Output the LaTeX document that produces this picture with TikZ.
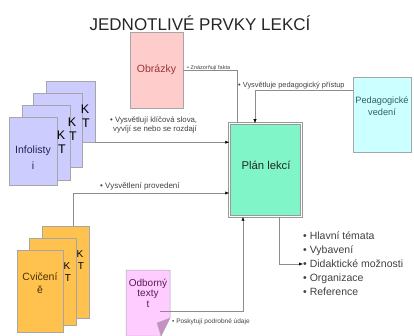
\documentclass[tikz,border=0pt]{standalone}
\usepackage{fontspec}
\setmainfont{Liberation Sans}
\usetikzlibrary{arrows.meta, positioning, calc}
\definecolor{infofill}{HTML}{CCCCFF}
\definecolor{infotext}{HTML}{22225A}
\definecolor{cvicfill}{HTML}{FFC24F}
\definecolor{cvictext}{HTML}{4A3000}
\definecolor{obrfill}{HTML}{FFCCCC}
\definecolor{obrtext}{HTML}{993333}
\definecolor{pedfill}{HTML}{CCFFFF}
\definecolor{pedtext}{HTML}{335F5F}
\definecolor{planfill}{HTML}{80F5C8}
\definecolor{odbfill}{HTML}{FFCCFF}
\definecolor{odbfold}{HTML}{C690C6}
\definecolor{odbtext}{HTML}{5A1A5A}
\definecolor{linegray}{HTML}{8C8C8C}
\tikzset{
  info card/.style={draw=gray!70, fill=infofill, line width=0.5pt, inner sep=0pt},
  cvic card/.style={draw=gray!70, fill=cvicfill, line width=0.5pt, inner sep=0pt},
  obr box/.style={draw=gray!70, fill=obrfill, line width=0.5pt, text=obrtext,
    minimum width=53pt, minimum height=76pt, font=\fontsize{10.5}{12}\selectfont},
  ped box/.style={draw=gray!70, fill=pedfill, line width=0.5pt,
    minimum width=58pt, minimum height=75pt},
  plan box/.style={draw=gray!80, double=white, double distance=1.2pt, line width=0.5pt,
    fill=planfill, minimum width=72pt, minimum height=93pt},
  box text/.style={align=center, inner sep=0pt},
  kt big/.style={inner sep=0pt, font=\fontsize{12.5}{12}\selectfont},
  kt small/.style={inner sep=0pt, font=\fontsize{10}{10}\selectfont},
  note/.style={inner sep=0pt, text=black!75, align=left},
  link/.style={draw=linegray, line width=0.6pt, -{Latex[length=4pt, width=3.2pt, color=black]}},
  plain link/.style={draw=linegray, line width=0.6pt}
}

\begin{document}
\begin{tikzpicture}[x=1pt, y=-1pt, >=Latex]
  \useasboundingbox (0,0) rectangle (414,336);

  % --- Title ---
  \node[inner sep=0pt, text=black!85, font=\fontsize{17}{17}\selectfont] (title) at (200,23) {JEDNOTLIVÉ PRVKY LEKCÍ};

  % --- Infolisty stack (back to front) ---
  \foreach \i/\cx/\cy/\w/\h in {4/70.5/111.5/49/61, 3/57.5/130/49/74, 2/46/142.5/48/75, 1/33/151/48/68} {
    \node[info card, minimum width=\w pt, minimum height=\h pt] (info-\i) at (\cx,\cy) {};
  }
  \foreach \i/\x/\y in {2/61/135, 3/72/122, 4/85/109} {
    \node[kt big] (kt-info-K-\i) at (\x,\y) {K};
    \node[kt big] (kt-info-T-\i) at (\x+1,\y+14) {T};
  }
  \node[box text, text=infotext, font=\fontsize{10.5}{16}\selectfont] (info-text) at (33,158) {Infolisty\\i};

  % --- Cvičení stack (back to front) ---
  \foreach \i/\cx/\cy/\w/\h in {3/65.5/272/47/92, 2/52.5/281.5/47/87, 1/40/291/46/82} {
    \node[cvic card, minimum width=\w pt, minimum height=\h pt] (cvic-\i) at (\cx,\cy) {};
  }
  \foreach \i/\x/\y in {2/67/266, 3/80/254} {
    \node[kt small] (kt-cvic-K-\i) at (\x,\y) {K};
    \node[kt small] (kt-cvic-T-\i) at (\x+1,\y+12) {T};
  }
  \node[box text, text=cvictext, font=\fontsize{10.5}{13}\selectfont] (cvic-text) at (40,283.5) {Cvičení\\ě};

  % --- Odborné texty (page with folded corner) ---
  \draw[draw=gray!70, fill=odbfill, line width=0.5pt]
    (126,270) -- (170,270) -- (170,318) -- (161,336) -- (126,336) -- cycle;
  \draw[draw=gray!60, fill=odbfold, line width=0.4pt] (170,318) -- (157,323) -- (161,336) -- cycle;
  \node[box text, text=odbtext, font=\fontsize{10}{10.5}\selectfont] (odb) at (148,293) {Odborný\\texty\\t};
  \coordinate (odb-out) at (160,311);

  % --- Main boxes ---
  \node[obr box] (obr) at (156.5,70) {Obrázky};
  \node[ped box] (ped) at (382,114.5) {};
  \node[box text, text=pedtext, font=\fontsize{9.2}{12.5}\selectfont] (ped-text) at (382,106) {Pedagogické\\vedení};
  \node[plan box] (plan) at (265.5,170) {};
  \node[box text, text=black!85, font=\fontsize{11.3}{12}\selectfont] (plan-text) at (266,165) {Plán lekcí};

  % --- Bend points ---
  \coordinate (obr-bend) at (237,70);
  \coordinate (ped-bend) at (255,90);
  \coordinate (cvic-bend) at (73,193);
  \coordinate (odb-bend) at (243,311);
  \coordinate (list-bend) at (279,264);

  % --- Connectors ---
  \draw[plain link] (obr.east) -- (obr-bend) -- (obr-bend |- plan.north);
  \draw[link] (ped-bend -| ped.west) -- (ped-bend) -- (ped-bend |- plan.north);
  \draw[link] (info-4.south east) -- (info-4.south east -| plan.west);
  \draw[link] (cvic-bend |- cvic-3.north) -- (cvic-bend) -- (cvic-bend -| plan.west);
  \draw[link] (odb-out) -- (odb-bend) -- (odb-bend |- plan.south);

  % --- Result list ---
  \node[note, anchor=west, font=\fontsize{10.5}{14}\selectfont] (list) at (303,264)
    {• Hlavní témata\\• Vybavení\\• Didaktické možnosti\\• Organizace\\• Reference};
  \draw[link] (list-bend |- plan.south) -- (list-bend) -- (list.west);

  % --- Connector labels ---
  \node[note, anchor=west, font=\fontsize{5.5}{6}\selectfont] (lab-fakta) at (187,68) {• Znázorňují fakta};
  \node[note, anchor=west, font=\fontsize{7.4}{8}\selectfont] (lab-pristup) at (238,86) {• Vysvětluje pedagogický přístup};
  \node[note, anchor=north west, font=\fontsize{7.8}{8.5}\selectfont] (lab-slova) at (110,117)
    {• Vysvětlují klíčová slova,\\\hspace*{3pt}vyvíjí se nebo se rozdají};
  \node[note, anchor=west, font=\fontsize{8}{8}\selectfont] (lab-provedeni) at (100,186) {• Vysvětlení provedení};
  \node[note, anchor=west, font=\fontsize{6.5}{7}\selectfont] (lab-udaje) at (172,322) {• Poskytují podrobné údaje};
\end{tikzpicture}
\end{document}
